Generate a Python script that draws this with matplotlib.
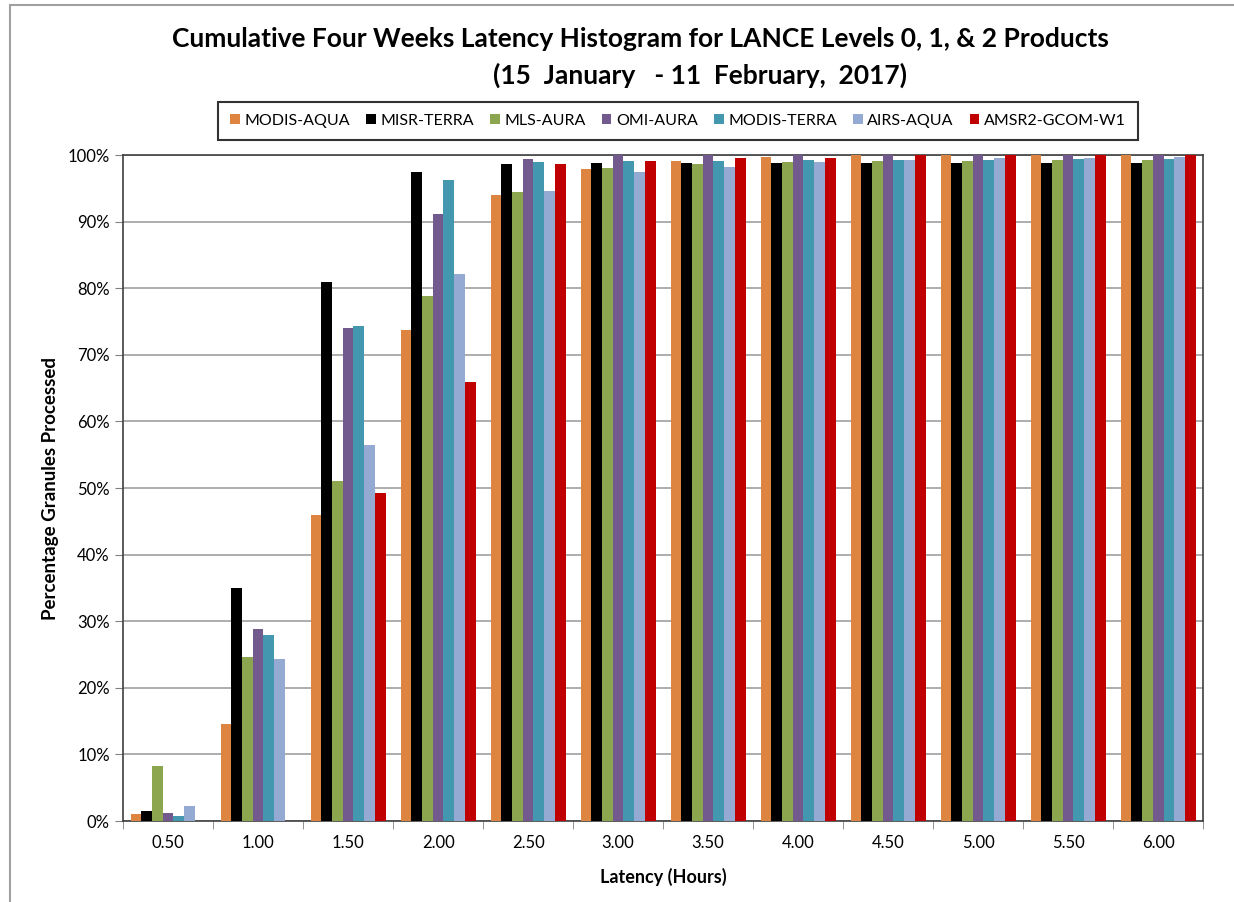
import numpy as np
import matplotlib
matplotlib.use('Agg')
import matplotlib.pyplot as plt
from matplotlib.patches import Rectangle
from matplotlib.ticker import PercentFormatter

plt.rcParams['font.family'] = ['Lato', 'DejaVu Sans']

# latency categories (hours)
latency = ['0.50', '1.00', '1.50', '2.00', '2.50', '3.00',
           '3.50', '4.00', '4.50', '5.00', '5.50', '6.00']

# cumulative percentage of granules processed, per instrument
modis_aqua = [1.0, 14.5, 45.9, 73.8, 94.0, 97.9, 99.1, 99.7, 100, 100, 100, 100]
misr_terra = [1.5, 35.0, 81.0, 97.5, 98.6, 98.8, 98.8, 98.8, 98.8, 98.8, 98.8, 98.8]
mls_aura = [8.3, 24.7, 51.0, 78.8, 94.4, 98.1, 98.6, 98.9, 99.1, 99.1, 99.2, 99.3]
omi_aura = [1.2, 28.9, 74.0, 91.2, 99.4, 100, 100, 100, 100, 100, 100, 100]
modis_terra = [0.8, 28.0, 74.3, 96.2, 98.9, 99.1, 99.1, 99.2, 99.2, 99.2, 99.4, 99.4]
airs_aqua = [2.2, 24.3, 56.4, 82.2, 94.6, 97.4, 98.2, 98.9, 99.2, 99.5, 99.6, 99.7]
amsr2_gcom = [0.0, 0.0, 49.2, 65.9, 98.6, 99.1, 99.5, 99.5, 100, 100, 100, 100]

series = [
    ('MODIS-AQUA', modis_aqua, '#DD8441'),
    ('MISR-TERRA', misr_terra, '#000000'),
    ('MLS-AURA', mls_aura, '#8BA64E'),
    ('OMI-AURA', omi_aura, '#725A8F'),
    ('MODIS-TERRA', modis_terra, '#4397AF'),
    ('AIRS-AQUA', airs_aqua, '#95AAD3'),
    ('AMSR2-GCOM-W1', amsr2_gcom, '#C00000'),
]

fig = plt.figure(figsize=(12.34, 9.02), dpi=100)
ax = fig.add_axes([0.0997, 0.0898, 0.8753, 0.7382])

x = np.arange(len(latency))
n = len(series)
w = 0.833 / n
for i, (name, vals, col) in enumerate(series):
    ax.bar(x - 0.833 / 2 + w * (i + 0.5), vals, width=w, color=col,
           label=name, zorder=3)

ax.set_xlim(-0.5, len(latency) - 0.5)
ax.set_ylim(0, 100)
ax.set_yticks(np.arange(0, 101, 10))
ax.yaxis.set_major_formatter(PercentFormatter(decimals=0))
ax.set_xticks(x)
ax.set_xticklabels(latency)
ax.set_xticks(np.arange(-0.5, len(latency), 1), minor=True)
ax.tick_params(axis='x', which='major', length=0, pad=10, labelsize=12)
ax.tick_params(axis='x', which='minor', length=6, color='#808080')
ax.tick_params(axis='y', length=6, color='#808080', labelsize=12)
ax.grid(axis='y', color='#A0A0A0', linewidth=1.2, zorder=0)
for s in ax.spines.values():
    s.set_color('#404040')
    s.set_linewidth(1.2)

ax.set_xlabel('Latency (Hours)', fontsize=13, fontweight='bold', labelpad=12)
ax.set_ylabel('Percentage Granules Processed', fontsize=13.5, fontweight='bold',
              labelpad=6)

fig.text(0.519, 0.957, 'Cumulative Four Weeks Latency Histogram for LANCE Levels 0, 1, & 2 Products',
         ha='center', va='center', fontsize=19, fontweight='bold')
fig.text(0.567, 0.917, '(15  January   - 11  February,  2017)',
         ha='center', va='center', fontsize=19, fontweight='bold')

leg = fig.legend(loc='center', bbox_to_anchor=(0.5495, 0.866), ncol=7,
                 fontsize=11.5, frameon=True, fancybox=False, handlelength=0.6,
                 handleheight=0.6, handletextpad=0.3, columnspacing=1.0,
                 borderpad=0.75)
leg.get_frame().set_edgecolor('#000000')
leg.get_frame().set_linewidth(1.5)

# outer chart border
fig.patches.append(Rectangle((0.008, -0.01), 1.1, 1.004, transform=fig.transFigure,
                             fill=False, edgecolor='#A0A0A0', linewidth=1.5))

fig.savefig('out.png', dpi=100)
